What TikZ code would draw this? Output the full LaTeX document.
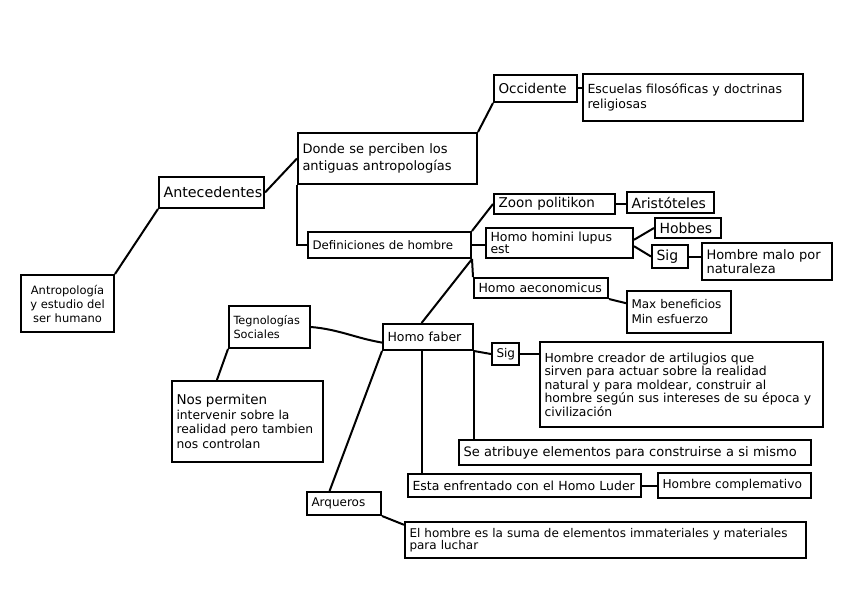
\documentclass[tikz,border=0pt]{standalone}
\usepackage{fontspec}
\setmainfont{DejaVu Sans}
\usetikzlibrary{calc}
\tikzset{
  box/.style={draw, line width=2pt, inner xsep=4pt, inner ysep=1pt, align=left,
    font=\fontsize{10.5}{12}\selectfont, anchor=center},
  conn/.style={line width=2pt},
}
\newcommand\fs[2]{\fontsize{#1}{#2}\selectfont}
\newcommand\mkbox[7][]{%
  \pgfmathsetmacro\bw{#5-#3}\pgfmathsetmacro\bh{#6-#4}\pgfmathsetmacro\tw{#5-#3-9}%
  \node[box, minimum width=\bw pt, minimum height=\bh pt, text width=\tw pt, #1] (#2) at ({(#3+#5)/2},{(#4+#6)/2}) {#7};}
\begin{document}
\begin{tikzpicture}[x=1pt,y=-1pt]
\fill[white] (0,0) rectangle (848,599);
\useasboundingbox (0,0) rectangle (848,599);
\mkbox[align=center, font=\fs{11.5}{14}]{A}{21}{275}{114}{332}{Antropología\\y estudio del\\ser humano}
\mkbox[font=\fs{14.3}{16}]{B}{159}{177}{264}{208}{Antecedentes}
\mkbox[font=\fs{13}{17}]{C}{298}{133}{477}{184}{Donde se perciben los\\antiguas antropologías}
\mkbox[font=\fs{13.5}{15}]{D}{494}{75}{577}{102}{Occidente}
\mkbox[font=\fs{12.5}{15}]{E}{583}{74}{803}{121}{Escuelas filosóficas y doctrinas\\religiosas}
\mkbox[font=\fs{11.8}{13}]{F}{308}{232}{471}{258}{Definiciones de hombre}
\mkbox[font=\fs{13.5}{15}]{G}{494}{194}{615}{214}{Zoon politikon}
\mkbox[font=\fs{14}{15}]{H}{627}{192}{714}{213}{Aristóteles}
\mkbox[font=\fs{12.5}{10.5}]{I}{486}{228}{633}{258}{Homo homini lupus\\est}
\mkbox[font=\fs{14}{15}]{J}{655}{218}{721}{238}{Hobbes}
\mkbox[font=\fs{14}{15}]{K}{652}{245}{688}{268}{Sig}
\mkbox[font=\fs{13}{14}]{L}{702}{243}{832}{280}{Hombre malo por\\naturaleza}
\mkbox[font=\fs{12.5}{14}]{M}{474}{278}{608}{298}{Homo aeconomicus}
\mkbox[font=\fs{12}{15}]{N}{627}{291}{731}{333}{Max beneficios\\Min esfuerzo}
\mkbox[font=\fs{12.5}{14}]{O}{383}{324}{473}{350}{Homo faber}
\mkbox[font=\fs{11.3}{14}]{P}{229}{306}{310}{348}{Tegnologías\\Sociales}
\mkbox[font=\fs{12.3}{14.5}]{Q}{172}{381}{323}{462}{{\fs{13.5}{16}Nos permiten}\\intervenir sobre la\\realidad pero tambien\\nos controlan}
\mkbox[font=\fs{12}{14}, inner xsep=3pt]{R}{492}{343}{519}{365}{Sig}
\mkbox[font=\fs{12.4}{13.5}]{S}{540}{342}{823}{427}{Hombre creador de artilugios que\\sirven para actuar sobre la realidad\\natural y para moldear, construir al\\hombre según sus intereses de su época y\\civilización}
\mkbox[font=\fs{13}{15}]{T}{459}{440}{811}{465}{\mbox{Se atribuye elementos para construirse a si mismo}}
\mkbox[font=\fs{12.5}{14}]{U}{408}{474}{641}{497}{\mbox{Esta enfrentado con el Homo Luder}}
\mkbox[font=\fs{12.2}{15}]{V}{658}{473}{811}{498}{\mbox{Hombre complemativo}}
\mkbox[font=\fs{12}{14}]{W}{307}{492}{381}{515}{Arqueros}
\mkbox[font=\fs{12}{12}]{X}{405}{522}{806}{558}{El hombre es la suma de elementos immateriales y materiales\\para luchar}
% connectors
\draw[conn] (A.north east) -- (B.south west);
\draw[conn] (B.east) -- (C.west);
\draw[conn] (C.north east) -- (D.south west);
\draw[conn] (D.east) -- (D.east -| E.west);
\draw[conn] (C.south west) |- (F.west);
\draw[conn] (F.north east) -- (G.west);
\draw[conn] (F.east) -- (F.east -| I.west);
\draw[conn] (G.east) -- (G.east -| H.west);
\draw[conn] ($(I.north east)!0.4!(I.south east)$) -- (J.west);
\draw[conn] ($(I.north east)!0.6!(I.south east)$) -- (K.west);
\draw[conn] (K.east) -- (K.east -| L.west);
\draw[conn] (F.south east) -- (M.north west);
\draw[conn] (M.south east) -- ($(N.north west)!0.3!(N.south west)$);
\draw[conn] (F.south east) -- ($(O.north west)!0.43!(O.north east)$);
\draw[conn] (P.east) to[out=-5,in=170] ($(O.north west)!0.7!(O.south west)$);
\draw[conn] (P.south west) -- ($(Q.north west)!0.3!(Q.north east)$);
\draw[conn] (O.south west) -- ($(W.north west)!0.31!(W.north east)$);
\coordinate (o1) at ($(O.south west)!0.43!(O.south east)$);
\draw[conn] (o1) -- (o1 |- U.north);
\draw[conn] (O.south east) -- (O.south east |- T.north);
\draw[conn] (O.south east) -- (R.west);
\draw[conn] (R.east) -- (R.east -| S.west);
\draw[conn] (U.east) -- (U.east -| V.west);
\draw[conn] (W.south east) -- ($(X.north west)!0.1!(X.south west)$);
\end{tikzpicture}
\end{document}
